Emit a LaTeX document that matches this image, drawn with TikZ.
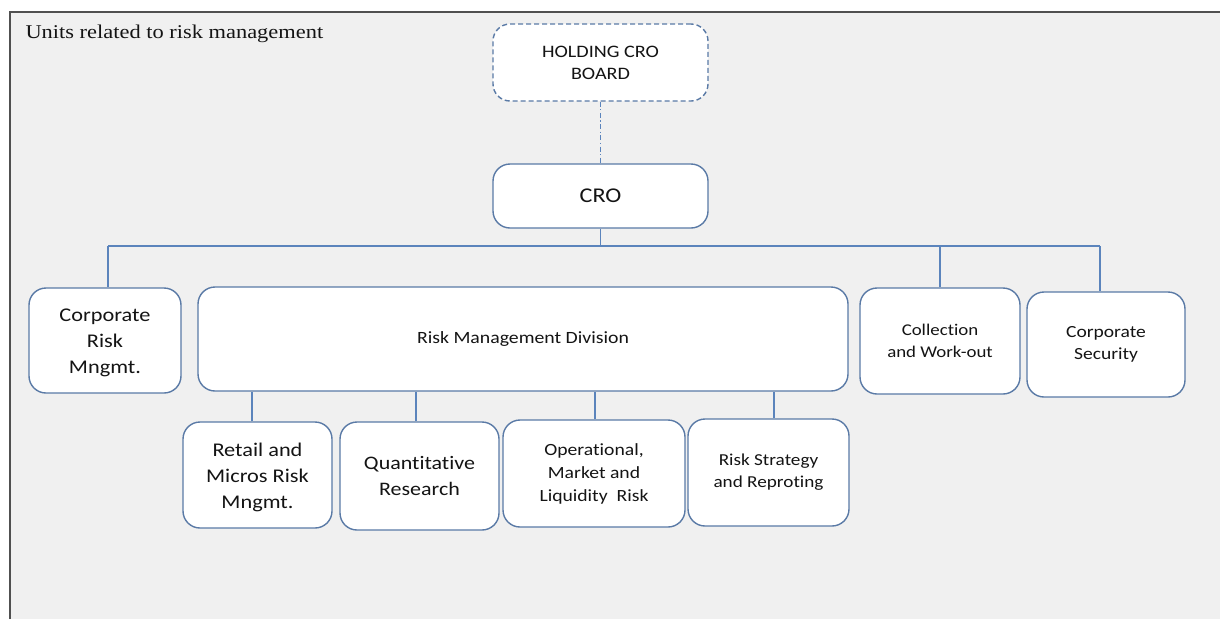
\documentclass[tikz,border=0pt]{standalone}
\usepackage{fontspec}
\setmainfont[FakeStretch=1.15, Ligatures=NoCommon]{Carlito}
\newfontfamily\titlefont[FakeStretch=1.15]{Liberation Serif}
\definecolor{panelbg}{HTML}{F0F0F0}
\definecolor{framegray}{HTML}{505050}
\definecolor{boxedge}{HTML}{5A7AA6}
\definecolor{linkblue}{HTML}{5B84BC}
\definecolor{inktext}{HTML}{141414}
\begin{document}
\begin{tikzpicture}[x=1pt,y=-1pt,
  unitbox/.style={draw=boxedge, line width=1.4pt, fill=white, rounded corners=17pt,
    inner sep=0pt, align=center, text=inktext},
  link/.style={draw=linkblue, line width=1.4pt},
  fs/.style 2 args={font=\fontsize{#1}{#2}\selectfont}]
% page and panel
\useasboundingbox (0,0) rectangle (1220,619);
\fill[white] (0,0) rectangle (1220,619);
\fill[panelbg] (9.5,11.5) rectangle (1220,619);
\draw[framegray, line width=2pt] (9.5,619) -- (9.5,11.5) -- (1220,11.5);
\node[anchor=base west, text=inktext, font=\titlefont\fontsize{19.5}{24}\selectfont] (title) at (22,38) {Units related to risk management};

% top of the hierarchy
\node[unitbox, dashed, dash pattern=on 5pt off 3pt, minimum width=215pt, minimum height=77pt, fs={17.5}{22}] (hold) at (600.5,62.5) {HOLDING CRO\\BOARD};
\node[unitbox, minimum width=215pt, minimum height=64pt, fs={21}{26}] (cro) at (600.5,196) {CRO};

% units reporting to the CRO
\node[unitbox, minimum width=152pt, minimum height=105pt, fs={19.4}{26}] (crm) at (105,340.5) {\strut Corporate\\Risk\\Mngmt.};
\node[unitbox, minimum width=650pt, minimum height=104pt, fs={17.2}{22}] (rmd) at (523,339) {Risk Management Division};
\node[unitbox, minimum width=160pt, minimum height=106pt, fs={16.4}{22}] (coll) at (940,341) {Collection\\and Work-out};
\node[unitbox, minimum width=158pt, minimum height=105pt, fs={17}{22}] (csec) at (1106,344.5) {Corporate\\Security};

% departments of the risk management division
\node[unitbox, minimum width=149pt, minimum height=106pt, fs={19.4}{26}] (ret) at (257.5,475) {\strut Retail and\\Micros Risk\\Mngmt.};
\node[unitbox, minimum width=159pt, minimum height=108pt, fs={19.1}{26}] (quant) at (419.5,476) {Quantitative\\Research};
\node[unitbox, minimum width=182pt, minimum height=107pt, fs={17.1}{23}] (oper) at (594,473.5) {Operational,\\Market and\\Liquidity\ \ Risk};
\node[unitbox, minimum width=161pt, minimum height=107pt, fs={16.7}{22}] (strat) at (768.5,472.5) {Risk Strategy\\and Reproting};

% connectors
\draw[draw=linkblue, line width=1.2pt, dash pattern=on 5pt off 2.5pt on 1.2pt off 2.5pt] (hold.south) -- (cro.north);
\coordinate (busL) at (108,246);
\coordinate (busR) at (1100,246);
\draw[link] (busL) -- (busR);
\draw[link] (cro.south) -- (cro.south |- busL);
\draw[link] (busL) -- (busL |- crm.north);
\draw[link] (coll.north) -- (coll.north |- busL);
\draw[link] (busR) -- (busR |- csec.north);
\draw[link] ([xshift=-5.5pt]ret.north) -- ([xshift=-5.5pt]rmd.south -| ret.north);
\draw[link] ([xshift=-3.5pt]quant.north) -- ([xshift=-3.5pt]rmd.south -| quant.north);
\draw[link] ([xshift=1pt]oper.north) -- ([xshift=1pt]rmd.south -| oper.north);
\draw[link] ([xshift=5.5pt]strat.north) -- ([xshift=5.5pt]rmd.south -| strat.north);
\end{tikzpicture}
\end{document}
